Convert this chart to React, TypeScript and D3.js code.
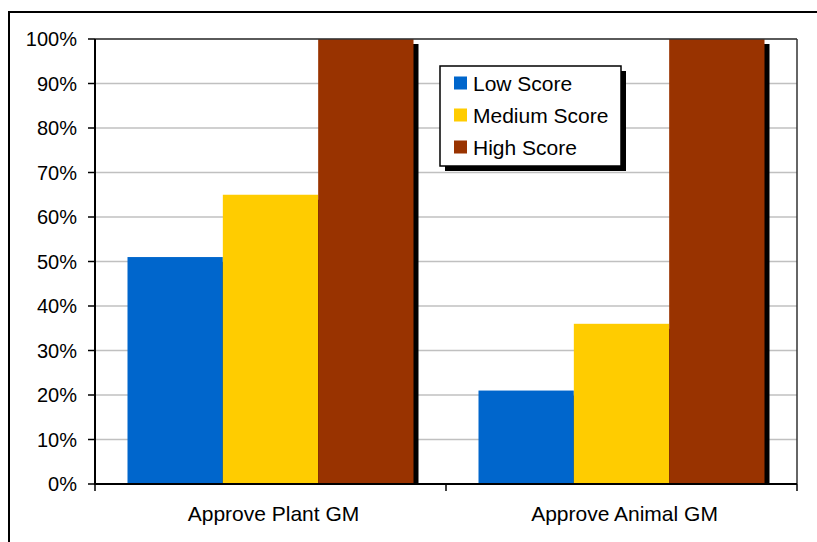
import React from 'react';
import * as d3 from 'd3';

const categories = ['Approve Plant GM', 'Approve Animal GM'];
const seriesNames = ['Low Score', 'Medium Score', 'High Score'];
const lowScore = [51, 21];
const mediumScore = [65, 36];
const highScore = [100, 100];
const yTicks = [0, 10, 20, 30, 40, 50, 60, 70, 80, 90, 100];

const colors = ['#0066CC', '#FFCC00', '#993300'];
const font = '"Liberation Sans", Arial, sans-serif';

const width = 817;
const height = 542;
const margin = { top: 39, right: 20, bottom: 58, left: 95 };
const plotW = 797 - margin.left;
const plotH = 484 - margin.top;

const App: React.FC = () => {
  const series = [lowScore, mediumScore, highScore];

  const x0 = d3.scaleBand<string>()
    .domain(categories)
    .range([0, plotW])
    .paddingInner(65 / 351)
    .paddingOuter(32.5 / 351);

  const x1 = d3.scaleBand<string>()
    .domain(seriesNames)
    .range([0, x0.bandwidth()]);

  const y = d3.scaleLinear().domain([0, 100]).range([plotH, 0]);

  const bars = categories.flatMap((cat, ci) =>
    series.map((vals, si) => ({
      key: `${cat}-${si}`,
      x: (x0(cat) || 0) + (x1(seriesNames[si]) || 0),
      y: y(vals[ci]),
      w: x1.bandwidth(),
      h: plotH - y(vals[ci]),
      color: colors[si],
    }))
  );

  // category boundaries for x ticks
  const xTickPos = [0, plotW / 2, plotW];

  const legend = { x: 440, y: 66, w: 181, h: 100 };

  return (
    <svg width={width} height={height} style={{ position: 'absolute', left: 0, top: 0, background: '#fff' }}>
      {/* outer chart border, cut off at right and bottom */}
      <rect x={9} y={12} width={width + 20} height={height + 20} fill="#fff" stroke="#000" strokeWidth={2} />

      <g transform={`translate(${margin.left},${margin.top})`}>
        {/* gridlines */}
        {yTicks.map(t => (
          <line key={`g${t}`} x1={0} x2={plotW} y1={y(t)} y2={y(t)} stroke="#c0c0c0" strokeWidth={1.5} />
        ))}

        {/* bar shadows */}
        {bars.map(b => (
          <rect key={`s${b.key}`} x={b.x + 5} y={b.y + 5} width={b.w} height={Math.max(0, b.h - 5)} fill="#000" />
        ))}
        {bars.map(b => (
          <rect key={b.key} x={b.x} y={b.y} width={b.w} height={b.h} fill={b.color} />
        ))}

        {/* plot frame */}
        <line x1={0} x2={plotW} y1={0} y2={0} stroke="#333" strokeWidth={1.5} />
        <line x1={plotW} x2={plotW} y1={0} y2={plotH} stroke="#333" strokeWidth={1.5} />
        <line x1={0} x2={0} y1={0} y2={plotH + 1} stroke="#000" strokeWidth={2} />
        <line x1={0} x2={plotW} y1={plotH} y2={plotH} stroke="#000" strokeWidth={2} />

        {/* y axis ticks and labels */}
        {yTicks.map(t => (
          <g key={`t${t}`} transform={`translate(0,${y(t)})`}>
            <line x1={-7} x2={0} stroke="#000" strokeWidth={1.5} />
            <text x={-18} dy="0.36em" textAnchor="end" fontFamily={font} fontSize={20} fill="#000">{`${t}%`}</text>
          </g>
        ))}

        {/* x axis ticks and labels */}
        {xTickPos.map((p, i) => (
          <line key={`x${i}`} x1={p} x2={p} y1={plotH} y2={plotH + 7} stroke="#000" strokeWidth={1.5} />
        ))}
        {categories.map(cat => (
          <text key={cat} x={(x0(cat) || 0) + x0.bandwidth() / 2 + 3} y={plotH + 37} textAnchor="middle"
            fontFamily={font} fontSize={21} fill="#000">{cat}</text>
        ))}
      </g>

      {/* legend */}
      <rect x={legend.x + 5} y={legend.y + 5} width={legend.w} height={legend.h} fill="#000" />
      <rect x={legend.x} y={legend.y} width={legend.w} height={legend.h} fill="#fff" stroke="#000" strokeWidth={1.5} />
      {seriesNames.map((name, i) => (
        <g key={name} transform={`translate(${legend.x + 14},${legend.y + 17 + i * 32})`}>
          <rect x={0} y={-6.5} width={13} height={13} fill={colors[i]} />
          <text x={19} dy="0.36em" fontFamily={font} fontSize={21} fill="#000">{name}</text>
        </g>
      ))}
    </svg>
  );
};

export default App;
